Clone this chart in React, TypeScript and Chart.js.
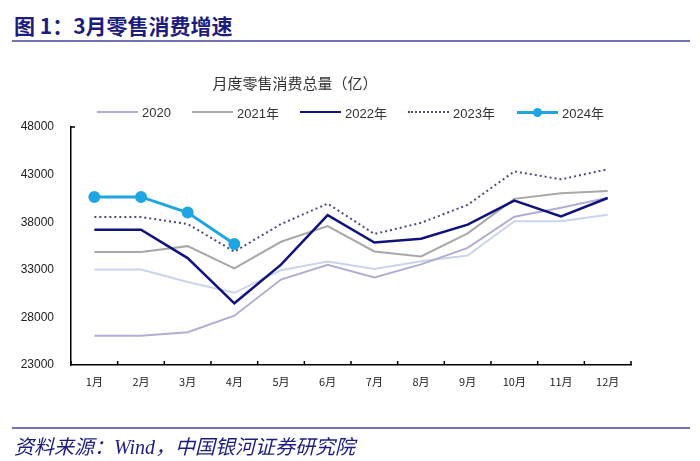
import React, { useEffect, useRef } from "react";
import { Chart, registerables } from "chart.js";

Chart.register(...registerables);

const months = ["1月", "2月", "3月", "4月", "5月", "6月", "7月", "8月", "9月", "10月", "11月", "12月"];
const yTicks = [23000, 28000, 33000, 38000, 43000, 48000];

const s2019 = [33032, 33032, 31726, 30586, 32956, 33878, 33073, 33896, 34495, 38104, 38094, 38777];
const s2020 = [26065, 26065, 26450, 28178, 31973, 33526, 32203, 33571, 35295, 38576, 39514, 40566];
const s2021 = [34869, 34869, 35484, 33153, 35945, 37586, 34925, 34395, 36833, 40454, 41043, 41269];
const s2022 = [37213, 37213, 34233, 29483, 33547, 38742, 35870, 36258, 37745, 40271, 38615, 40542];
const s2023 = [38534, 38534, 37815, 34910, 37803, 39951, 36761, 37933, 39826, 43333, 42505, 43550];
const s2024 = [40654, 40654, 39020, 35699, null, null, null, null, null, null, null, null];

const C2019 = "#c9d6ea";
const C2020 = "#b2aed2";
const C2021 = "#a8a8a8";
const C2022 = "#12127e";
const C2023 = "#4a4a80";
const C2024 = "#1fa6e2";

const innerTicks = {
  id: "innerTicks",
  afterDraw(chart: any) {
    const { ctx, chartArea, scales } = chart;
    const x = scales.x;
    ctx.save();
    ctx.strokeStyle = "#000";
    ctx.lineWidth = 1.5;
    for (let i = 0; i <= months.length; i++) {
      const px = x.left + ((x.right - x.left) * i) / months.length;
      ctx.beginPath();
      ctx.moveTo(px, chartArea.bottom);
      ctx.lineTo(px, chartArea.bottom - 4);
      ctx.stroke();
    }
    ctx.beginPath();
    ctx.moveTo(chartArea.left, chartArea.top);
    ctx.lineTo(chartArea.left + 4, chartArea.top);
    ctx.stroke();
    ctx.restore();
  },
};

export default function App() {
  const ref = useRef<HTMLCanvasElement>(null);

  useEffect(() => {
    if (!ref.current) return;
    const chart = new Chart(ref.current, {
      type: "line",
      data: {
        labels: months,
        datasets: [
          { label: "2019", data: s2019, borderColor: C2019, borderWidth: 2, pointRadius: 0, order: 6 },
          { label: "2020", data: s2020, borderColor: C2020, borderWidth: 2, pointRadius: 0, order: 5 },
          { label: "2021年", data: s2021, borderColor: C2021, borderWidth: 2, pointRadius: 0, order: 4 },
          { label: "2022年", data: s2022, borderColor: C2022, borderWidth: 2.5, pointRadius: 0, order: 3 },
          { label: "2023年", data: s2023, borderColor: C2023, borderWidth: 2, borderDash: [2, 3], pointRadius: 0, order: 2 },
          {
            label: "2024年",
            data: s2024,
            borderColor: C2024,
            backgroundColor: C2024,
            borderWidth: 3,
            pointRadius: 4.5,
            pointBackgroundColor: C2024,
            pointBorderColor: C2024,
            order: 1,
          },
        ],
      },
      options: {
        responsive: false,
        animation: false,
        layout: { padding: { left: 0, right: 69, top: 127, bottom: 0 } },
        plugins: { legend: { display: false }, title: { display: false }, tooltip: { enabled: false } },
        elements: { line: { tension: 0 } },
        scales: {
          x: {
            offset: true,
            grid: { display: false },
            border: { display: true, color: "#000", width: 1.5 },
            ticks: { color: "#222", font: { family: "'Noto Sans CJK SC'", size: 11 }, padding: 2 },
            afterFit: (s: any) => {
              s.height = 96;
            },
          },
          y: {
            min: 23000,
            max: 48000,
            grid: { display: false },
            border: { display: true, color: "#000", width: 1.5 },
            afterBuildTicks: (s: any) => {
              s.ticks = yTicks.map((v) => ({ value: v }));
            },
            ticks: {
              color: "#222",
              font: { family: "'Liberation Sans', Arial", size: 12 },
              padding: 9,
              callback: (v: any) => String(v),
            },
            afterFit: (s: any) => {
              s.width = 71;
            },
          },
        },
      },
      plugins: [innerTicks],
    });
    return () => chart.destroy();
  }, []);

  const legendItems = [
    { label: "2020", color: C2020, style: "solid", w: 2, marker: false, left: 97 },
    { label: "2021年", color: C2021, style: "solid", w: 2, marker: false, left: 192 },
    { label: "2022年", color: C2022, style: "solid", w: 2.5, marker: false, left: 300 },
    { label: "2023年", color: C2023, style: "dotted", w: 2, marker: false, left: 408 },
    { label: "2024年", color: C2024, style: "solid", w: 3, marker: true, left: 517 },
  ];

  return (
    <div style={{ position: "absolute", left: 0, top: 0, width: 700, height: 461, background: "#fff", overflow: "hidden" }}>
      <div
        style={{
          position: "absolute",
          left: 14,
          top: 11,
          fontFamily: "'Noto Sans CJK SC'",
          fontWeight: 700,
          fontSize: 21,
          lineHeight: "28px",
          color: "#1c1c7e",
          whiteSpace: "nowrap",
        }}
      >
        图 1：3月零售消费增速
      </div>
      <div style={{ position: "absolute", left: 12, top: 40, width: 678, height: 2, background: "#7272b4" }} />
      <canvas ref={ref} width={700} height={461} style={{ position: "absolute", left: 0, top: 0 }} />
      <div
        style={{
          position: "absolute",
          left: 195,
          width: 200,
          top: 73,
          textAlign: "center",
          fontFamily: "'Noto Sans CJK SC'",
          fontSize: 15,
          lineHeight: "20px",
          color: "#333",
          whiteSpace: "nowrap",
        }}
      >
        月度零售消费总量（亿）
      </div>
      {legendItems.map((it) => (
        <div key={it.label} style={{ position: "absolute", left: it.left, top: 103, height: 18, display: "flex", alignItems: "center" }}>
          <div style={{ position: "relative", width: 41, height: 18 }}>
            <div
              style={{
                position: "absolute",
                left: 0,
                top: 9 - it.w / 2,
                width: 41,
                borderTop: `${it.w}px ${it.style} ${it.color}`,
              }}
            />
            {it.marker && (
              <div
                style={{
                  position: "absolute",
                  left: 16,
                  top: 5,
                  width: 9,
                  height: 9,
                  borderRadius: "50%",
                  background: it.color,
                }}
              />
            )}
          </div>
          <span
            style={{
              marginLeft: 4,
              fontFamily: "'Liberation Sans', 'Noto Sans CJK SC'",
              fontSize: 13,
              color: "#333",
              whiteSpace: "nowrap",
            }}
          >
            {it.label}
          </span>
        </div>
      ))}
      <div style={{ position: "absolute", left: 12, top: 427, width: 678, height: 2, background: "#7272b4" }} />
      <div
        style={{
          position: "absolute",
          left: 14,
          top: 433,
          fontFamily: "'Noto Sans CJK SC', 'Liberation Serif'",
          fontStyle: "italic",
          fontSize: 20,
          lineHeight: "26px",
          color: "#1c1c7e",
          whiteSpace: "nowrap",
        }}
      >
        资料来源：<span style={{ fontFamily: "'Liberation Serif'" }}>Wind</span>，中国银河证券研究院
      </div>
    </div>
  );
}
